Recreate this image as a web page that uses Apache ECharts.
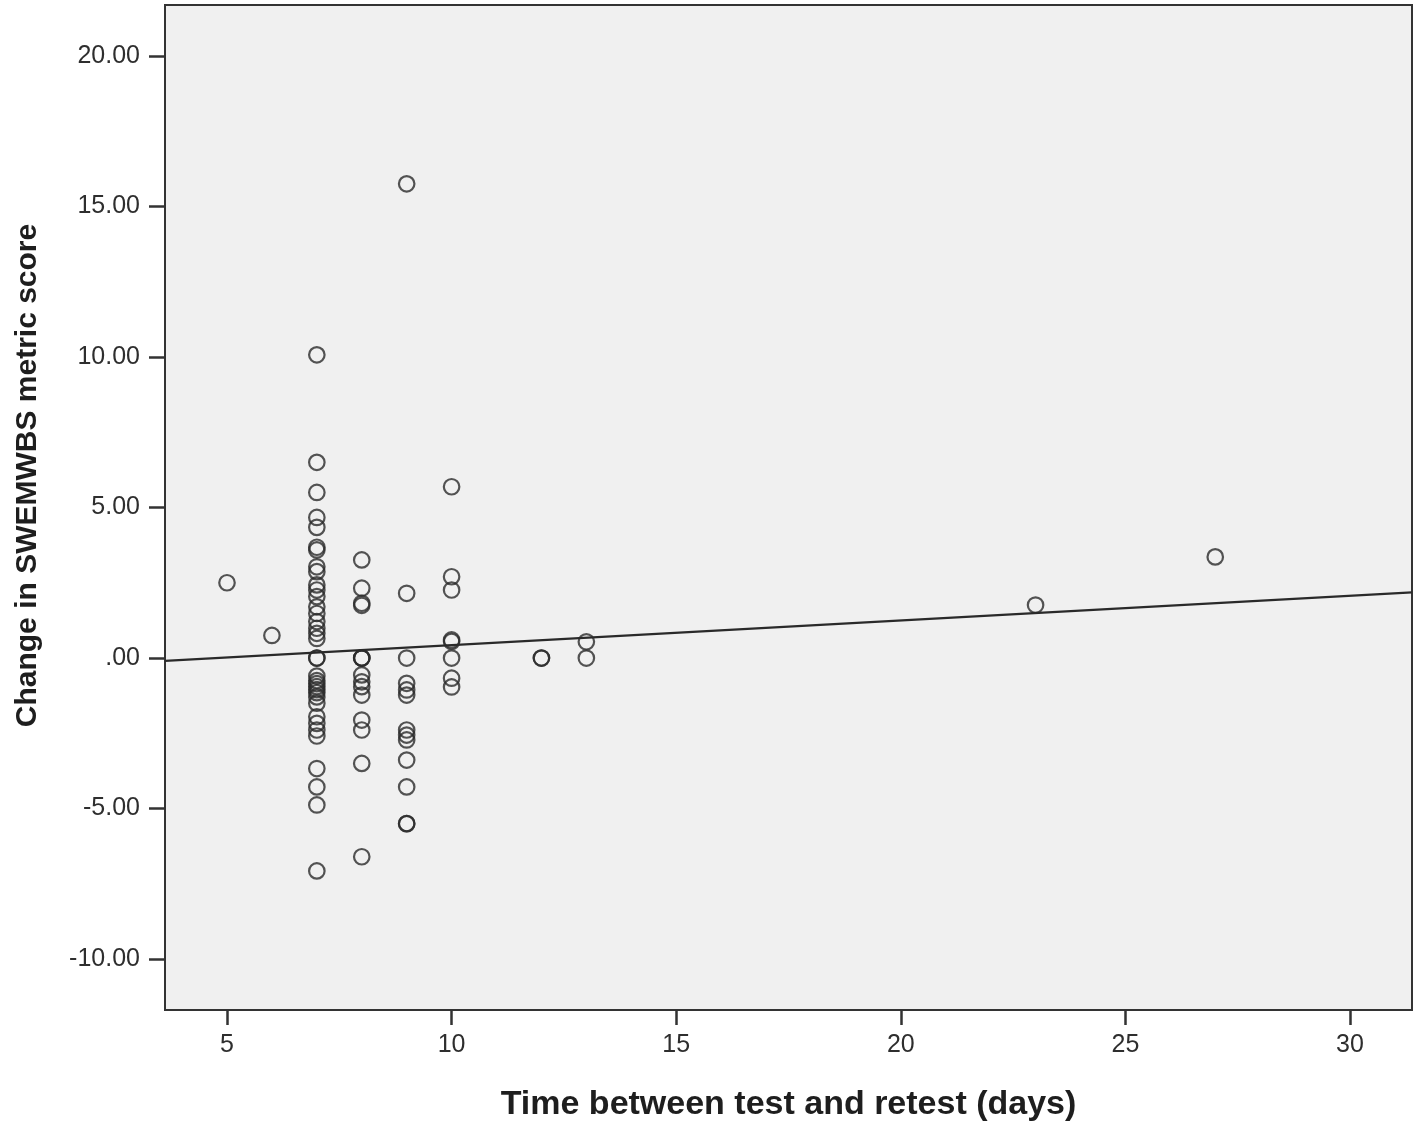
<!DOCTYPE html>
<html>
<head>
<meta charset="utf-8">
<script src="https://cdn.jsdelivr.net/npm/echarts@6/dist/echarts.min.js"></script>
<style>
html,body{margin:0;padding:0;background:#fff;}
#chart{width:1418px;height:1127px;}
</style>
</head>
<body>
<div id="chart"></div>
<script>
// Days between test and retest, with change in SWEMWBS metric score
const days5 = [2.5];
const days6 = [0.75];
const days7 = [10.07, 6.5, 5.5, 4.67, 4.34, 3.68, 3.59, 3.03, 2.87, 2.43, 2.26, 2.04, 1.70, 1.48, 1.21, 0.99, 0.82, 0.65, 0, 0,
  -0.6, -0.75, -0.85, -0.95, -1.05, -1.15, -1.29, -1.5, -1.95, -2.17, -2.39, -2.59, -3.67, -4.28, -4.88, -7.07];
const days8 = [3.26, 2.32, 1.82, 1.75, 0, 0, 0, -0.56, -0.79, -0.95, -1.23, -2.06, -2.39, -3.5, -6.6];
const days9 = [15.75, 2.15, 0, -0.84, -1.06, -1.23, -2.39, -2.56, -2.72, -3.39, -4.28, -5.5, -5.5];
const days10 = [5.69, 2.70, 2.26, 0.6, 0.55, 0, -0.67, -0.96];
const days12 = [0, 0];
const days13 = [0.54, 0];
const days23 = [1.76];
const days27 = [3.36];

const groups = [[5, days5], [6, days6], [7, days7], [8, days8], [9, days9], [10, days10],
  [12, days12], [13, days13], [23, days23], [27, days27]];

// Fitted regression line
const fitIntercept = -0.39;
const fitSlope = 0.082;

const xTicks = [5, 10, 15, 20, 25, 30];
const yTicks = [-10, -5, 0, 5, 10, 15, 20];
const xRange = [3.62, 31.38];
const yRange = [-11.69, 21.69];

const points = [];
groups.forEach(([d, vals]) => vals.forEach(v => points.push([d, v])));
const fitLine = xRange.map(x => [x, fitIntercept + fitSlope * x]);

const chart = echarts.init(document.getElementById('chart'), null, {renderer: 'canvas'});
const font = '"Liberation Sans", Arial, sans-serif';
chart.setOption({
  animation: false,
  backgroundColor: '#ffffff',
  grid: {
    left: 165, top: 5, right: 6, bottom: 117,
    show: true, backgroundColor: '#f0f0f0', borderColor: '#333', borderWidth: 2
  },
  xAxis: {
    type: 'value', min: xRange[0], max: xRange[1],
    name: 'Time between test and retest (days)',
    nameLocation: 'middle', nameGap: 78,
    nameTextStyle: {fontFamily: font, fontSize: 34, fontWeight: 'bold', color: '#1e1e1e'},
    axisLine: {show: true, onZero: false, lineStyle: {color: '#333', width: 2}},
    axisTick: {show: true, length: 15, lineStyle: {color: '#333', width: 2.5}, customValues: xTicks},
    axisLabel: {fontFamily: font, fontSize: 25, color: '#2e2e2e', margin: 23, customValues: xTicks},
    splitLine: {show: false}
  },
  yAxis: {
    type: 'value', min: yRange[0], max: yRange[1],
    name: 'Change in SWEMWBS metric score',
    nameLocation: 'middle', nameGap: 122,
    nameTextStyle: {fontFamily: font, fontSize: 30, fontWeight: 'bold', color: '#1e1e1e', padding: [0, 0, 0, 64]},
    axisLine: {show: true, onZero: false, lineStyle: {color: '#333', width: 2}},
    axisTick: {show: true, length: 16, lineStyle: {color: '#333', width: 2.5}, customValues: yTicks},
    axisLabel: {
      fontFamily: font, fontSize: 25, color: '#2e2e2e', margin: 25, customValues: yTicks,
      formatter: v => v === 0 ? '.00' : v.toFixed(2)
    },
    splitLine: {show: false}
  },
  series: [
    {
      type: 'line', data: fitLine, symbol: 'none', silent: true,
      lineStyle: {color: '#2a2a2a', width: 2.2}, z: 2
    },
    {
      type: 'scatter', data: points, symbol: 'circle', symbolSize: 15.5,
      itemStyle: {color: 'rgba(0,0,0,0)', borderColor: '#2a2a2a', borderWidth: 2.2}, z: 3
    }
  ]
});
</script>
</body>
</html>
